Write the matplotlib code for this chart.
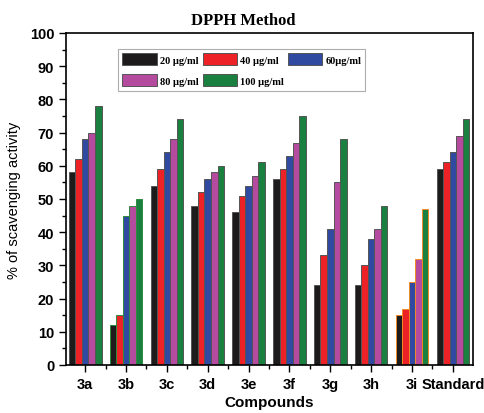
import matplotlib
matplotlib.use("Agg")
import matplotlib.pyplot as plt
import numpy as np
from matplotlib.ticker import MultipleLocator

categories = ["3a", "3b", "3c", "3d", "3e", "3f", "3g", "3h", "3i", "Standard"]
series_labels = ["20 \u03bcg/ml", "40 \u03bcg/ml", "60\u03bcg/ml", "80 \u03bcg/ml", "100 \u03bcg/ml"]
c20 = [58, 12, 54, 48, 46, 56, 24, 24, 15, 59]
c40 = [62, 15, 59, 52, 51, 59, 33, 30, 17, 61]
c60 = [68, 45, 64, 56, 54, 63, 41, 38, 25, 64]
c80 = [70, 48, 68, 58, 57, 67, 55, 41, 32, 69]
c100 = [78, 50, 74, 60, 61, 75, 68, 48, 47, 74]
series = [c20, c40, c60, c80, c100]
colors = ["#1e1b1c", "#ec2227", "#2f4aa0", "#b44b9f", "#1a8040"]

fig = plt.figure(figsize=(4.85, 4.14), dpi=100)
ax = fig.add_axes([0.136, 0.116, 0.839, 0.802])

x = np.arange(len(categories))
w = 0.16
edge_default = "#555555"
edges = [edge_default] * len(categories)
edges[1] = "#2e8b3e"
edges[8] = "#f08a24"
handles = []
for i, (vals, col) in enumerate(zip(series, colors)):
    b = ax.bar(x + (i - 2) * w, vals, w, color=col, edgecolor=edges, linewidth=0.7, label=series_labels[i])
    handles.append(b)

ax.set_xlim(-0.47, 9.49)
ax.set_ylim(0, 100)
ax.set_xticks(x)
ax.set_xticklabels(categories)
ax.xaxis.set_minor_locator(MultipleLocator(0.5))
ax.yaxis.set_major_locator(MultipleLocator(10))
ax.yaxis.set_minor_locator(MultipleLocator(5))
ax.tick_params(axis="both", which="major", direction="out", length=5, width=1, labelsize=10.5)
ax.tick_params(axis="both", which="minor", direction="out", length=3, width=1)
for lab in ax.get_xticklabels() + ax.get_yticklabels():
    lab.set_fontfamily("Liberation Sans")
    lab.set_fontweight("bold")
for s in ax.spines.values():
    s.set_linewidth(1.2)

ax.set_ylabel("% of scavenging activity", fontsize=10.5, family="Liberation Sans", labelpad=6)
ax.set_xlabel("Compounds", fontsize=11, family="Liberation Sans", fontweight="bold", labelpad=3)
fig.text(243 / 485, 1 - 21 / 414, "DPPH Method", fontsize=12, family="Liberation Serif",
         fontweight="bold", ha="center", va="center")

order = [0, 3, 1, 4, 2]
leg = ax.legend([handles[k] for k in order], [series_labels[k] for k in order], ncol=3,
                loc="upper left", bbox_to_anchor=(0.128, 0.952),
                prop={"family": "Liberation Serif", "weight": "bold", "size": 7.5},
                handlelength=3.3, handleheight=1.4, handletextpad=0.3, columnspacing=0.4,
                labelspacing=0.9, frameon=True, fancybox=False, edgecolor="#999999", borderpad=0.4,
                borderaxespad=0)
leg.get_frame().set_linewidth(0.8)

fig.savefig("out.png", dpi=100)
